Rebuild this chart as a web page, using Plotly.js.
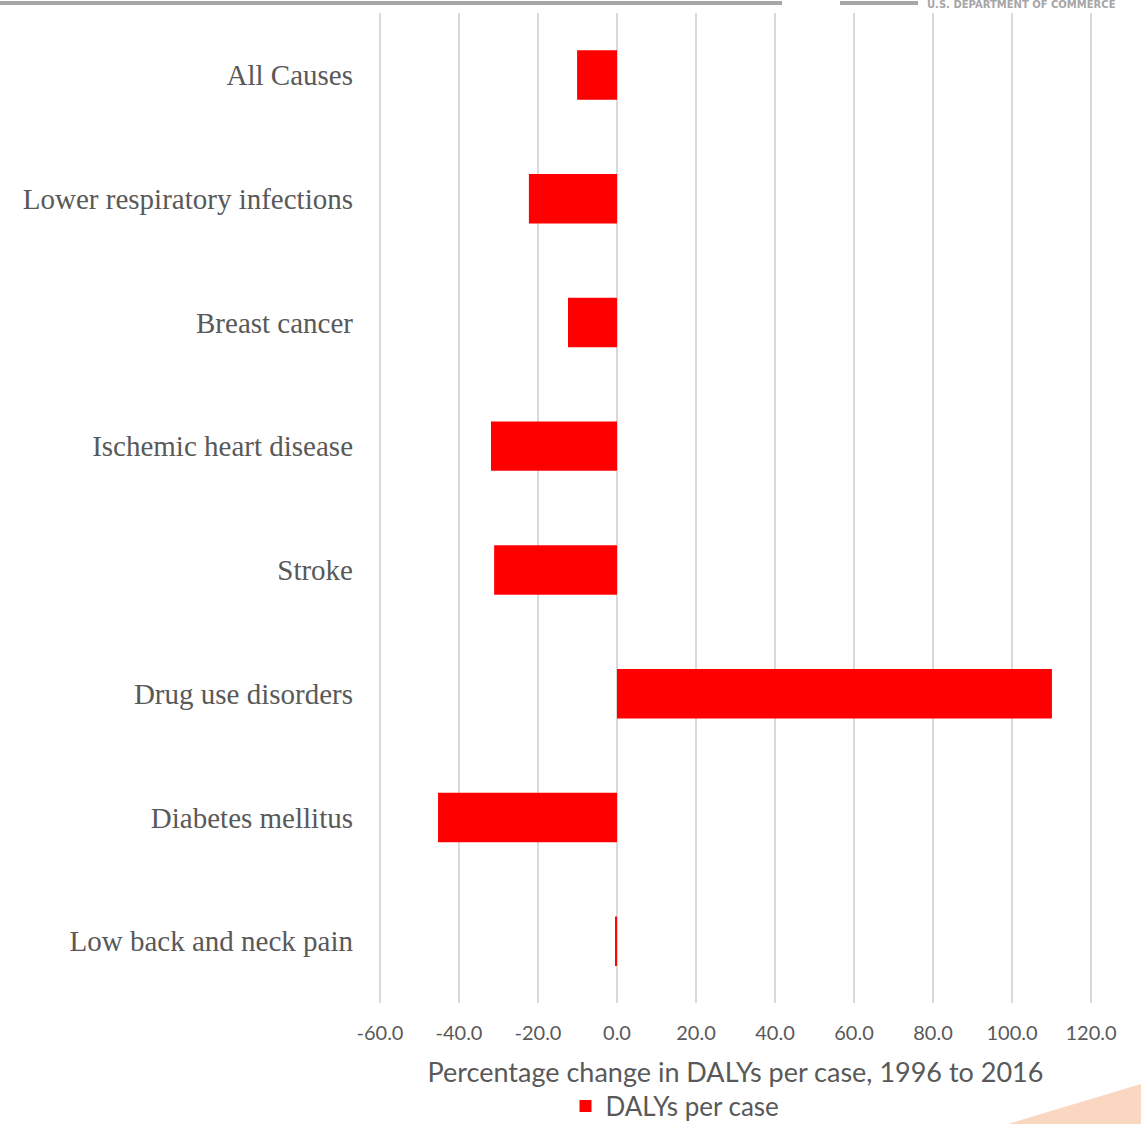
<!DOCTYPE html>
<html>
<head>
<meta charset="utf-8">
<script src="https://cdn.plot.ly/plotly-3.0.1.min.js"></script>
<style>
html,body{margin:0;padding:0;background:#fff;}
#chart{width:1141px;height:1124px;}
</style>
</head>
<body>
<div id="chart"></div>
<script>
const categories = [
  "All Causes",
  "Lower respiratory infections",
  "Breast cancer",
  "Ischemic heart disease",
  "Stroke",
  "Drug use disorders",
  "Diabetes mellitus",
  "Low back and neck pain"
];
const dalysPerCase = [-10.1, -22.3, -12.4, -31.9, -31.1, 110.1, -45.3, -0.5];
const xTickValues = [-60, -40, -20, 0, 20, 40, 60, 80, 100, 120];
const xTickLabels = ["-60.0", "-40.0", "-20.0", "0.0", "20.0", "40.0", "60.0", "80.0", "100.0", "120.0"];
const seriesName = "DALYs per case";
const xTitle = "Percentage change in DALYs per case, 1996 to 2016";
const headerText = "U.S. DEPARTMENT OF COMMERCE";

const W = 1141, H = 1124;
const L = 378, R = 48, T = 13, B = 121;
const pw = W - L - R, ph = H - T - B;
function px(x){ return (x - L) / pw; }
function py(y){ return (H - B - y) / ph; }

const trace = {
  type: "bar",
  orientation: "h",
  y: categories,
  x: dalysPerCase,
  name: seriesName,
  marker: {color: "#ff0000", line: {width: 0}},
  showlegend: true
};

const layout = {
  width: W, height: H,
  margin: {l: L, r: R, t: T, b: B, pad: 0, autoexpand: false},
  paper_bgcolor: "#ffffff",
  plot_bgcolor: "#ffffff",
  bargap: 0.6,
  showlegend: true,
  legend: {
    orientation: "h",
    x: px(675), xanchor: "center",
    xref: "paper",
    y: py(1106), yanchor: "middle",
    font: {family: "Lato, 'Open Sans', sans-serif", size: 26, color: "#595959"},
    itemwidth: 30,
    bgcolor: "rgba(0,0,0,0)"
  },
  xaxis: {
    range: [-60.5, 120.5],
    tickvals: xTickValues,
    ticktext: xTickLabels,
    showgrid: true,
    gridcolor: "#d9d9d9",
    gridwidth: 2,
    zeroline: false,
    showline: false,
    ticks: "",
    ticklabelstandoff: 16,
    tickfont: {family: "Lato, 'Open Sans', sans-serif", size: 20, color: "#595959"},
    title: {
      text: xTitle,
      font: {family: "Lato, 'Open Sans', sans-serif", size: 27, color: "#595959"},
      standoff: 20
    },
    fixedrange: true
  },
  yaxis: {
    type: "category",
    autorange: "reversed",
    showgrid: false,
    zeroline: false,
    showline: false,
    ticks: "",
    ticklabelstandoff: 24,
    tickfont: {family: "'Liberation Serif', 'Times New Roman', serif", size: 29, color: "#595959"},
    fixedrange: true
  },
  shapes: [
    {type: "line", xref: "paper", yref: "paper",
     x0: px(0), x1: px(782), y0: py(3), y1: py(3),
     line: {color: "#a6a6a6", width: 4}, layer: "above"},
    {type: "line", xref: "paper", yref: "paper",
     x0: px(840), x1: px(918), y0: py(3), y1: py(3),
     line: {color: "#a6a6a6", width: 4}, layer: "above"},
    {type: "path", xref: "paper", yref: "paper",
     path: "M " + px(1008) + " " + py(1124) + " L " + px(1141) + " " + py(1084) +
           " L " + px(1141) + " " + py(1124) + " Z",
     fillcolor: "#fad7c0", line: {width: 0}, layer: "below"}
  ],
  annotations: [
    {xref: "paper", yref: "paper", x: px(925), y: py(5), xanchor: "left", yanchor: "middle",
     text: "<b>" + headerText + "</b>", showarrow: false,
     font: {family: "'DejaVu Sans', sans-serif", size: 10, color: "#a6a6a6"}}
  ]
};

Plotly.newPlot("chart", [trace], layout, {displayModeBar: false, staticPlot: true});
</script>
</body>
</html>
